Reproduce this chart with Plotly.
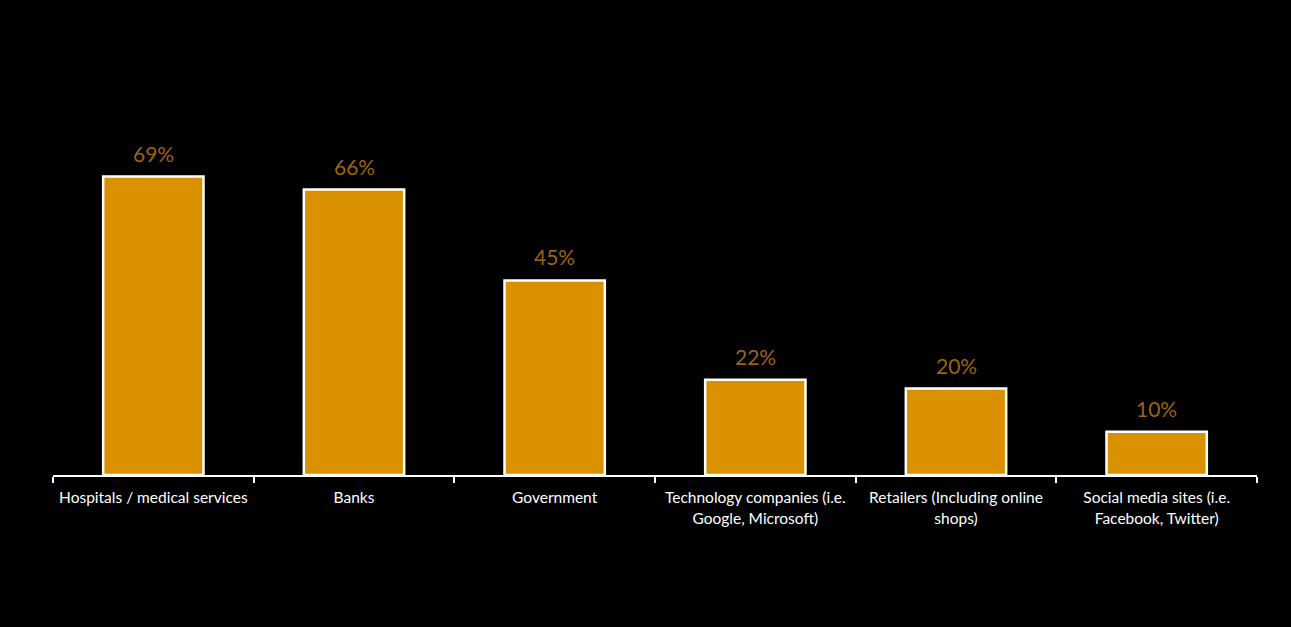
import plotly.graph_objects as go

categories = [
    "Hospitals / medical services",
    "Banks",
    "Government",
    "Technology companies (i.e.<br>Google, Microsoft)",
    "Retailers (Including online<br>shops)",
    "Social media sites (i.e.<br>Facebook, Twitter)",
]
values = [69, 66, 45, 22, 20, 10]
labels = [f"{v}%" for v in values]

fig = go.Figure()
fig.add_trace(go.Bar(
    x=categories, y=values,
    marker=dict(color="#D99100", line=dict(color="white", width=2.5)),
    width=0.5,
    hoverinfo="skip",
))
for c, v, t in zip(categories, values, labels):
    fig.add_annotation(x=c, y=v, text=t, showarrow=False, yanchor="bottom", yshift=9,
                       font=dict(family="Lato", size=21, color="#9C6410"))

fig.update_layout(
    width=1291, height=627,
    paper_bgcolor="black", plot_bgcolor="black",
    margin=dict(l=53, r=34, t=129, b=152),
    showlegend=False,
    bargap=0.5,
    font=dict(family="Lato", color="white"),
)
fig.update_xaxes(
    showline=True, linecolor="white", linewidth=1.5,
    ticks="outside", tickson="boundaries", ticklen=6, tickcolor="white", tickwidth=1.5,
    tickfont=dict(family="Lato", size=15.5, color="white"),
    ticklabelstandoff=8,
    showgrid=False, tickangle=0,
)
fig.update_yaxes(range=[0, 80], visible=False, showgrid=False, zeroline=False)

fig.write_html("out.html")
